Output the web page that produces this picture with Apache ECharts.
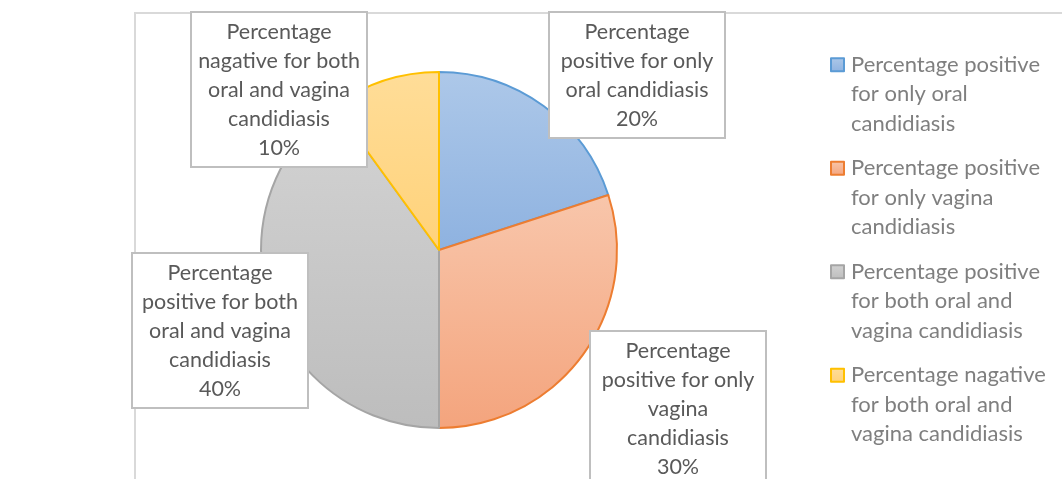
<!DOCTYPE html>
<html>
<head>
<meta charset="utf-8">
<script src="https://cdn.jsdelivr.net/npm/echarts@6/dist/echarts.min.js"></script>
<style>
  html, body { margin: 0; padding: 0; background: #fff; }
  #chart { width: 1062px; height: 479px; }
</style>
</head>
<body>
<div id="chart"></div>
<script>
// data
const categories = [
  'Percentage positive for only oral candidiasis',
  'Percentage positive for only vagina candidiasis',
  'Percentage positive for both oral and vagina candidiasis',
  'Percentage nagative for both oral and vagina candidiasis'
];
const values = [20, 30, 40, 10];

// styles
const fillTop = ['#adc8e9', '#f8c6ab', '#d3d3d3', '#ffdd98'];
const fillBottom = ['#8eb2e0', '#f4a47d', '#bdbdbd', '#ffd27a'];
const borders = ['#5b9bd5', '#ed7d31', '#a5a5a5', '#ffc000'];
// label box top-centre, placed by hand like the original
const labelPos = [[637, 13], [678, 332], [220, 254], [279, 13]];

const FONT = 'Lato, "Open Sans", sans-serif';

// word wrap by character count
function wrap(text, max) {
  const lines = [];
  let cur = '';
  text.split(' ').forEach(w => {
    if (cur && (cur + ' ' + w).length > max) {
      lines.push(cur);
      cur = w;
    } else {
      cur = cur ? cur + ' ' + w : w;
    }
  });
  if (cur) lines.push(cur);
  return lines.join('\n');
}

const chart = echarts.init(document.getElementById('chart'));

const option = {
  animation: false,
  graphic: [{
    type: 'rect',
    z: -10,
    shape: {x: 135, y: 13, width: 1000, height: 500},
    style: {fill: 'none', stroke: '#d9d9d9', lineWidth: 2}
  }],
  legend: {
    orient: 'vertical',
    left: 830,
    top: -9,
    padding: 0,
    icon: 'rect',
    itemWidth: 13,
    itemHeight: 13,
    itemGap: -44,
    itemStyle: {borderWidth: 2},
    // two empty lines above keep the icon level with the first line
    formatter: name => '\n\n' + wrap(name, 19),
    textStyle: {fontFamily: FONT, fontSize: 22, lineHeight: 29.5, color: '#7f7f7f', padding: [0, 0, 0, 2]}
  },
  series: [{
    type: 'pie',
    center: [439, 250],
    radius: 178,
    startAngle: 90,
    clockwise: true,
    data: categories.map((name, i) => ({
      name: name,
      value: values[i],
      itemStyle: {
        color: new echarts.graphic.LinearGradient(0, 0, 0, 1, [
          {offset: 0, color: fillTop[i]},
          {offset: 1, color: fillBottom[i]}
        ]),
        borderColor: borders[i],
        borderWidth: 2
      }
    })),
    label: {
      show: true,
      formatter: p => wrap(p.name, 17) + '\n' + p.value + '%',
      fontFamily: FONT,
      fontSize: 21.5,
      lineHeight: 29,
      color: '#595959',
      align: 'center',
      width: 164,
      backgroundColor: '#fff',
      borderColor: '#bfbfbf',
      borderWidth: 2,
      padding: [5, 5, 3, 5]
    },
    labelLine: {show: false},
    labelLayout: p => ({
      x: labelPos[p.dataIndex][0],
      y: labelPos[p.dataIndex][1],
      align: 'center',
      verticalAlign: 'top'
    }),
    emphasis: {disabled: true}
  }]
};

chart.setOption(option);
</script>
</body>
</html>
